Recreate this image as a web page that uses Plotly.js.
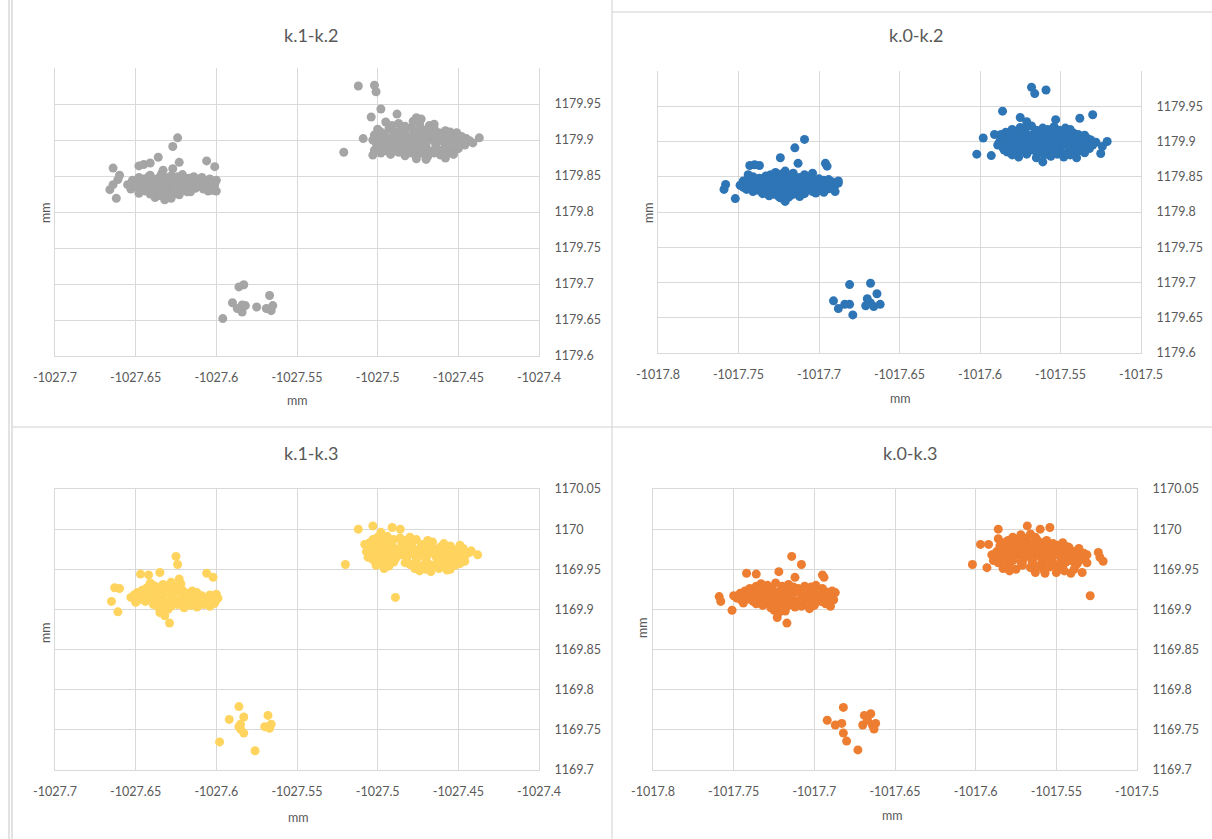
<!DOCTYPE html>
<html><head><meta charset="utf-8">
<script src="https://cdn.plot.ly/plotly-3.0.1.min.js"></script>
<style>html,body{margin:0;padding:0;background:#fff}#chart{width:1212px;height:839px}</style>
</head><body><div id="chart"></div>
<script>
const panelTitles = ['k.1-k.2', 'k.0-k.2', 'k.1-k.3', 'k.0-k.3'];
const axisTitle = 'mm';
const xTicksK1 = [-1027.7, -1027.65, -1027.6, -1027.55, -1027.5, -1027.45, -1027.4];
const xTickTextK1 = ['-1027.7', '-1027.65', '-1027.6', '-1027.55', '-1027.5', '-1027.45', '-1027.4'];
const xTicksK0 = [-1017.8, -1017.75, -1017.7, -1017.65, -1017.6, -1017.55, -1017.5];
const xTickTextK0 = ['-1017.8', '-1017.75', '-1017.7', '-1017.65', '-1017.6', '-1017.55', '-1017.5'];
const yTicksK2 = [1179.6, 1179.65, 1179.7, 1179.75, 1179.8, 1179.85, 1179.9, 1179.95];
const yTickTextK2 = ['1179.6', '1179.65', '1179.7', '1179.75', '1179.8', '1179.85', '1179.9', '1179.95'];
const yTicksK3 = [1169.7, 1169.75, 1169.8, 1169.85, 1169.9, 1169.95, 1170, 1170.05];
const yTickTextK3 = ['1169.7', '1169.75', '1169.8', '1169.85', '1169.9', '1169.95', '1170', '1170.05'];

// k.1-k.2 (gray)
const k12Left = [[-1027.664,1179.861],[-1027.660,1179.851],[-1027.661,1179.845],[-1027.664,1179.838],[-1027.666,1179.831],[-1027.662,1179.819],
[-1027.648,1179.864],[-1027.645,1179.866],[-1027.641,1179.868],[-1027.636,1179.876],[-1027.627,1179.891],[-1027.624,1179.903],[-1027.623,1179.869],[-1027.606,1179.871],[-1027.601,1179.863],
[-1027.633,1179.858],[-1027.627,1179.860],
[-1027.641,1179.851],[-1027.634,1179.853],[-1027.628,1179.850],[-1027.621,1179.852],[-1027.614,1179.849],
[-1027.652,1179.844],[-1027.645,1179.846],[-1027.638,1179.845],[-1027.632,1179.843],[-1027.626,1179.846],[-1027.620,1179.844],[-1027.612,1179.843],[-1027.604,1179.846],[-1027.600,1179.844],
[-1027.655,1179.838],[-1027.649,1179.837],[-1027.643,1179.839],[-1027.637,1179.837],[-1027.631,1179.839],[-1027.627,1179.836],[-1027.622,1179.838],[-1027.617,1179.837],[-1027.611,1179.839],[-1027.606,1179.836],[-1027.601,1179.838],
[-1027.653,1179.832],[-1027.646,1179.831],[-1027.640,1179.833],[-1027.634,1179.831],[-1027.629,1179.830],[-1027.624,1179.832],[-1027.619,1179.831],[-1027.613,1179.833],[-1027.608,1179.832],[-1027.602,1179.830],
[-1027.648,1179.826],[-1027.641,1179.825],[-1027.636,1179.827],[-1027.630,1179.824],[-1027.625,1179.826],[-1027.618,1179.828],[-1027.600,1179.829],
[-1027.638,1179.820],[-1027.632,1179.817],[-1027.628,1179.819]];
const k12LeftFill = [[-1027.648,1179.848],[-1027.642,1179.849],[-1027.636,1179.847],[-1027.630,1179.848],[-1027.624,1179.849],[-1027.617,1179.847],[-1027.609,1179.848],
[-1027.652,1179.841],[-1027.646,1179.842],[-1027.640,1179.840],[-1027.634,1179.842],[-1027.628,1179.841],[-1027.624,1179.840],[-1027.619,1179.842],[-1027.614,1179.841],[-1027.608,1179.840],[-1027.603,1179.841],
[-1027.650,1179.835],[-1027.644,1179.834],[-1027.638,1179.836],[-1027.632,1179.834],[-1027.626,1179.835],[-1027.620,1179.834],[-1027.615,1179.835],[-1027.610,1179.836],[-1027.604,1179.834],
[-1027.644,1179.829],[-1027.638,1179.830],[-1027.633,1179.828],[-1027.627,1179.829],[-1027.621,1179.830],[-1027.616,1179.828],[-1027.605,1179.829],
[-1027.635,1179.823],[-1027.629,1179.822],[-1027.623,1179.824]];
const k12Right = [[-1027.512,1179.975],[-1027.502,1179.976],[-1027.501,1179.967],[-1027.498,1179.943],[-1027.504,1179.932],[-1027.488,1179.936],[-1027.476,1179.931],[-1027.473,1179.929],[-1027.521,1179.883],[-1027.509,1179.902],[-1027.437,1179.903],[-1027.444,1179.898],
[-1027.495,1179.925],[-1027.487,1179.923],[-1027.478,1179.926],[-1027.465,1179.922],
[-1027.500,1179.915],[-1027.493,1179.916],[-1027.486,1179.914],[-1027.479,1179.917],[-1027.472,1179.914],[-1027.465,1179.916],[-1027.458,1179.913],
[-1027.502,1179.907],[-1027.496,1179.908],[-1027.490,1179.906],[-1027.484,1179.908],[-1027.478,1179.907],[-1027.472,1179.905],[-1027.466,1179.908],[-1027.460,1179.906],[-1027.454,1179.907],[-1027.448,1179.905],
[-1027.503,1179.900],[-1027.497,1179.899],[-1027.491,1179.901],[-1027.485,1179.899],[-1027.479,1179.900],[-1027.473,1179.898],[-1027.467,1179.901],[-1027.461,1179.899],[-1027.455,1179.900],[-1027.449,1179.898],[-1027.443,1179.899],
[-1027.500,1179.893],[-1027.494,1179.892],[-1027.488,1179.894],[-1027.482,1179.892],[-1027.476,1179.893],[-1027.470,1179.891],[-1027.464,1179.894],[-1027.458,1179.892],[-1027.452,1179.891],[-1027.446,1179.893],
[-1027.502,1179.886],[-1027.495,1179.885],[-1027.488,1179.887],[-1027.481,1179.885],[-1027.474,1179.886],[-1027.467,1179.884],[-1027.460,1179.886],[-1027.453,1179.884],
[-1027.503,1179.879],[-1027.492,1179.880],[-1027.483,1179.878],[-1027.476,1179.879],[-1027.469,1179.877],[-1027.461,1179.879],[-1027.453,1179.880],
[-1027.476,1179.874],[-1027.470,1179.873],[-1027.458,1179.875]];
const k12RightFill = [[-1027.491,1179.920],[-1027.483,1179.919],[-1027.474,1179.921],[-1027.468,1179.920],
[-1027.498,1179.911],[-1027.490,1179.912],[-1027.483,1179.910],[-1027.476,1179.911],[-1027.469,1179.912],[-1027.462,1179.910],[-1027.455,1179.911],[-1027.451,1179.910],
[-1027.499,1179.904],[-1027.493,1179.903],[-1027.487,1179.904],[-1027.481,1179.903],[-1027.475,1179.904],[-1027.469,1179.903],[-1027.463,1179.904],[-1027.457,1179.903],[-1027.451,1179.904],[-1027.445,1179.902],
[-1027.501,1179.896],[-1027.494,1179.897],[-1027.488,1179.896],[-1027.482,1179.897],[-1027.476,1179.896],[-1027.470,1179.895],[-1027.464,1179.897],[-1027.458,1179.896],[-1027.452,1179.895],[-1027.446,1179.897],[-1027.441,1179.896],
[-1027.497,1179.889],[-1027.491,1179.890],[-1027.485,1179.889],[-1027.478,1179.890],[-1027.471,1179.888],[-1027.464,1179.889],[-1027.457,1179.890],[-1027.450,1179.888],
[-1027.498,1179.882],[-1027.487,1179.883],[-1027.479,1179.882],[-1027.472,1179.881],[-1027.465,1179.882],[-1027.457,1179.881]];
const k12Low = [[-1027.596,1179.652],[-1027.590,1179.674],[-1027.586,1179.696],[-1027.583,1179.699],[-1027.587,1179.666],[-1027.582,1179.670],[-1027.584,1179.661],[-1027.575,1179.668],[-1027.569,1179.666],[-1027.567,1179.684],[-1027.565,1179.670],[-1027.566,1179.663],[-1027.584,1179.671]];

// k.0-k.2 (blue)
const k02Left = [[-1017.758,1179.839],[-1017.759,1179.832],[-1017.752,1179.819],[-1017.743,1179.866],[-1017.740,1179.867],[-1017.737,1179.866],[-1017.724,1179.877],[-1017.715,1179.891],[-1017.709,1179.903],[-1017.713,1179.869],[-1017.696,1179.869],[-1017.695,1179.865],[-1017.690,1179.829],[-1017.688,1179.844],[-1017.704,1179.855],[-1017.744,1179.853],
[-1017.727,1179.856],[-1017.721,1179.858],[-1017.716,1179.855],
[-1017.741,1179.850],[-1017.733,1179.851],[-1017.726,1179.849],[-1017.719,1179.851],[-1017.712,1179.849],[-1017.705,1179.850],
[-1017.747,1179.844],[-1017.740,1179.843],[-1017.734,1179.845],[-1017.728,1179.843],[-1017.722,1179.845],[-1017.716,1179.843],[-1017.710,1179.845],[-1017.703,1179.843],[-1017.697,1179.845],[-1017.692,1179.843],
[-1017.749,1179.838],[-1017.743,1179.837],[-1017.737,1179.839],[-1017.731,1179.837],[-1017.725,1179.838],[-1017.720,1179.836],[-1017.714,1179.838],[-1017.708,1179.837],[-1017.702,1179.839],[-1017.696,1179.837],[-1017.690,1179.838],
[-1017.745,1179.832],[-1017.738,1179.831],[-1017.732,1179.833],[-1017.726,1179.831],[-1017.720,1179.832],[-1017.714,1179.830],[-1017.707,1179.832],[-1017.700,1179.831],[-1017.694,1179.833],
[-1017.735,1179.826],[-1017.728,1179.825],[-1017.722,1179.827],[-1017.716,1179.825],[-1017.709,1179.826],[-1017.702,1179.827],
[-1017.724,1179.820],[-1017.719,1179.821],[-1017.721,1179.815]];
const k02LeftFill = [[-1017.730,1179.853],[-1017.723,1179.854],[-1017.716,1179.852],[-1017.709,1179.853],
[-1017.744,1179.847],[-1017.737,1179.848],[-1017.731,1179.847],[-1017.725,1179.848],[-1017.719,1179.846],[-1017.713,1179.847],[-1017.707,1179.848],[-1017.700,1179.847],[-1017.694,1179.846],
[-1017.746,1179.841],[-1017.740,1179.840],[-1017.734,1179.841],[-1017.728,1179.840],[-1017.722,1179.841],[-1017.716,1179.840],[-1017.711,1179.841],[-1017.705,1179.840],[-1017.699,1179.841],[-1017.693,1179.840],[-1017.688,1179.841],
[-1017.747,1179.835],[-1017.741,1179.834],[-1017.735,1179.835],[-1017.729,1179.834],[-1017.723,1179.835],[-1017.717,1179.834],[-1017.711,1179.835],[-1017.705,1179.834],[-1017.699,1179.835],[-1017.693,1179.834],
[-1017.741,1179.829],[-1017.735,1179.828],[-1017.729,1179.829],[-1017.723,1179.828],[-1017.717,1179.829],[-1017.711,1179.828],[-1017.704,1179.829],[-1017.697,1179.828],
[-1017.731,1179.823],[-1017.725,1179.822],[-1017.718,1179.823],[-1017.712,1179.822]];
const k02Right = [[-1017.568,1179.977],[-1017.566,1179.968],[-1017.559,1179.973],[-1017.586,1179.943],[-1017.575,1179.934],[-1017.538,1179.933],[-1017.530,1179.938],[-1017.598,1179.905],[-1017.591,1179.910],[-1017.602,1179.882],[-1017.593,1179.880],[-1017.561,1179.871],[-1017.521,1179.900],[-1017.524,1179.893],[-1017.525,1179.883],[-1017.553,1179.931],[-1017.571,1179.928],
[-1017.575,1179.920],[-1017.568,1179.922],[-1017.561,1179.919],[-1017.554,1179.921],[-1017.547,1179.919],
[-1017.584,1179.913],[-1017.578,1179.912],[-1017.572,1179.914],[-1017.566,1179.912],[-1017.560,1179.913],[-1017.554,1179.911],[-1017.548,1179.914],[-1017.542,1179.912],
[-1017.587,1179.906],[-1017.581,1179.905],[-1017.575,1179.907],[-1017.569,1179.905],[-1017.563,1179.906],[-1017.557,1179.904],[-1017.551,1179.907],[-1017.545,1179.905],[-1017.539,1179.906],[-1017.533,1179.904],
[-1017.588,1179.899],[-1017.582,1179.898],[-1017.576,1179.900],[-1017.570,1179.898],[-1017.564,1179.899],[-1017.558,1179.897],[-1017.552,1179.900],[-1017.546,1179.898],[-1017.540,1179.899],[-1017.534,1179.897],[-1017.528,1179.899],
[-1017.586,1179.892],[-1017.580,1179.891],[-1017.574,1179.893],[-1017.568,1179.891],[-1017.562,1179.892],[-1017.556,1179.890],[-1017.550,1179.893],[-1017.544,1179.891],[-1017.538,1179.892],[-1017.532,1179.890],
[-1017.583,1179.885],[-1017.577,1179.884],[-1017.570,1179.886],[-1017.563,1179.884],[-1017.556,1179.885],[-1017.549,1179.883],[-1017.542,1179.885],[-1017.535,1179.884],
[-1017.576,1179.878],[-1017.565,1179.877],[-1017.556,1179.879],[-1017.548,1179.878],[-1017.540,1179.877]];
const k02RightFill = [[-1017.580,1179.917],[-1017.572,1179.918],[-1017.565,1179.916],[-1017.558,1179.917],[-1017.551,1179.916],[-1017.544,1179.917],
[-1017.587,1179.910],[-1017.581,1179.909],[-1017.575,1179.910],[-1017.569,1179.909],[-1017.563,1179.910],[-1017.557,1179.909],[-1017.551,1179.910],[-1017.545,1179.909],[-1017.539,1179.910],[-1017.535,1179.909],
[-1017.585,1179.902],[-1017.579,1179.903],[-1017.573,1179.902],[-1017.567,1179.903],[-1017.561,1179.902],[-1017.555,1179.901],[-1017.549,1179.903],[-1017.543,1179.902],[-1017.537,1179.901],[-1017.531,1179.902],
[-1017.589,1179.895],[-1017.583,1179.896],[-1017.577,1179.895],[-1017.571,1179.894],[-1017.565,1179.896],[-1017.559,1179.895],[-1017.553,1179.894],[-1017.547,1179.896],[-1017.541,1179.895],[-1017.535,1179.894],[-1017.530,1179.895],
[-1017.585,1179.888],[-1017.579,1179.889],[-1017.573,1179.888],[-1017.566,1179.887],[-1017.559,1179.888],[-1017.552,1179.889],[-1017.545,1179.888],[-1017.538,1179.887],
[-1017.580,1179.881],[-1017.571,1179.882],[-1017.560,1179.881],[-1017.552,1179.882],[-1017.544,1179.881]];
const k02Low = [[-1017.691,1179.674],[-1017.688,1179.663],[-1017.684,1179.669],[-1017.681,1179.669],[-1017.679,1179.654],[-1017.681,1179.697],[-1017.668,1179.699],[-1017.664,1179.684],[-1017.671,1179.667],[-1017.668,1179.671],[-1017.662,1179.669],[-1017.670,1179.677],[-1017.666,1179.666]];

// k.1-k.3 (yellow)
const k13Left = [[-1027.663,1169.927],[-1027.660,1169.926],[-1027.665,1169.910],[-1027.661,1169.897],[-1027.647,1169.944],[-1027.642,1169.943],[-1027.635,1169.946],[-1027.625,1169.966],[-1027.624,1169.956],[-1027.606,1169.945],[-1027.602,1169.940],[-1027.629,1169.883],[-1027.632,1169.892],[-1027.635,1169.896],[-1027.623,1169.938],
[-1027.641,1169.933],[-1027.628,1169.934],[-1027.622,1169.932],
[-1027.643,1169.927],[-1027.637,1169.928],[-1027.630,1169.926],[-1027.624,1169.927],
[-1027.649,1169.921],[-1027.642,1169.922],[-1027.636,1169.920],[-1027.630,1169.921],[-1027.624,1169.922],[-1027.618,1169.920],[-1027.612,1169.921],
[-1027.653,1169.915],[-1027.646,1169.914],[-1027.639,1169.916],[-1027.633,1169.914],[-1027.627,1169.915],[-1027.621,1169.913],[-1027.615,1169.915],[-1027.609,1169.914],[-1027.603,1169.916],[-1027.599,1169.914],
[-1027.650,1169.909],[-1027.644,1169.910],[-1027.637,1169.908],[-1027.631,1169.909],[-1027.625,1169.910],[-1027.619,1169.908],[-1027.613,1169.909],[-1027.607,1169.910],[-1027.601,1169.908],
[-1027.636,1169.903],[-1027.628,1169.904],[-1027.620,1169.902],[-1027.612,1169.903],[-1027.604,1169.904],
[-1027.633,1169.898]];
const k13LeftFill = [[-1027.639,1169.930],[-1027.633,1169.931],[-1027.626,1169.929],
[-1027.646,1169.924],[-1027.640,1169.925],[-1027.633,1169.924],[-1027.627,1169.923],[-1027.621,1169.924],[-1027.615,1169.923],
[-1027.651,1169.918],[-1027.645,1169.919],[-1027.639,1169.918],[-1027.633,1169.917],[-1027.627,1169.918],[-1027.621,1169.919],[-1027.615,1169.918],[-1027.609,1169.917],[-1027.604,1169.918],[-1027.600,1169.919],
[-1027.648,1169.912],[-1027.641,1169.913],[-1027.635,1169.912],[-1027.628,1169.911],[-1027.622,1169.912],[-1027.616,1169.911],[-1027.610,1169.912],[-1027.604,1169.911],[-1027.600,1169.912],
[-1027.639,1169.906],[-1027.633,1169.907],[-1027.624,1169.906],[-1027.616,1169.905],[-1027.608,1169.906],[-1027.602,1169.907],
[-1027.630,1169.900]];
const k13Right = [[-1027.512,1170.000],[-1027.503,1170.004],[-1027.491,1170.002],[-1027.486,1170.000],[-1027.520,1169.956],[-1027.508,1169.981],[-1027.489,1169.915],[-1027.442,1169.973],[-1027.438,1169.968],[-1027.498,1169.996],
[-1027.500,1169.990],[-1027.494,1169.991],[-1027.486,1169.989],[-1027.480,1169.990],
[-1027.505,1169.983],[-1027.499,1169.982],[-1027.492,1169.984],[-1027.485,1169.982],[-1027.479,1169.983],[-1027.472,1169.981],[-1027.466,1169.984],[-1027.459,1169.982],
[-1027.506,1169.976],[-1027.500,1169.975],[-1027.494,1169.977],[-1027.488,1169.975],[-1027.482,1169.976],[-1027.476,1169.974],[-1027.470,1169.977],[-1027.464,1169.975],[-1027.458,1169.976],[-1027.452,1169.974],[-1027.447,1169.976],
[-1027.504,1169.969],[-1027.498,1169.968],[-1027.492,1169.970],[-1027.486,1169.968],[-1027.480,1169.969],[-1027.474,1169.967],[-1027.468,1169.970],[-1027.462,1169.968],[-1027.456,1169.969],[-1027.450,1169.967],[-1027.445,1169.969],
[-1027.503,1169.962],[-1027.496,1169.961],[-1027.489,1169.963],[-1027.482,1169.961],[-1027.476,1169.962],[-1027.470,1169.960],[-1027.463,1169.963],[-1027.457,1169.961],[-1027.451,1169.962],[-1027.446,1169.960],
[-1027.501,1169.955],[-1027.493,1169.954],[-1027.480,1169.956],[-1027.473,1169.954],[-1027.466,1169.955],[-1027.459,1169.953],[-1027.452,1169.955],
[-1027.474,1169.948],[-1027.467,1169.947],[-1027.457,1169.949]];
const k13RightFill = [[-1027.503,1169.987],[-1027.497,1169.986],[-1027.490,1169.987],[-1027.483,1169.986],[-1027.476,1169.987],[-1027.469,1169.986],
[-1027.503,1169.979],[-1027.497,1169.980],[-1027.491,1169.979],[-1027.485,1169.978],[-1027.479,1169.979],[-1027.473,1169.980],[-1027.467,1169.979],[-1027.461,1169.978],[-1027.455,1169.979],[-1027.449,1169.980],
[-1027.507,1169.972],[-1027.501,1169.973],[-1027.495,1169.972],[-1027.489,1169.971],[-1027.483,1169.972],[-1027.477,1169.973],[-1027.471,1169.972],[-1027.465,1169.971],[-1027.459,1169.972],[-1027.453,1169.973],[-1027.448,1169.972],[-1027.443,1169.971],
[-1027.506,1169.965],[-1027.500,1169.964],[-1027.494,1169.965],[-1027.488,1169.966],[-1027.482,1169.965],[-1027.476,1169.964],[-1027.470,1169.965],[-1027.464,1169.966],[-1027.458,1169.965],[-1027.452,1169.964],[-1027.447,1169.965],
[-1027.498,1169.958],[-1027.490,1169.959],[-1027.483,1169.958],[-1027.476,1169.957],[-1027.469,1169.958],[-1027.462,1169.959],[-1027.455,1169.958],[-1027.449,1169.957],
[-1027.496,1169.951],[-1027.477,1169.951],[-1027.470,1169.950],[-1027.462,1169.951],[-1027.455,1169.950]];
const k13Low = [[-1027.598,1169.735],[-1027.592,1169.763],[-1027.586,1169.779],[-1027.583,1169.766],[-1027.585,1169.757],[-1027.583,1169.746],[-1027.576,1169.724],[-1027.568,1169.768],[-1027.570,1169.754],[-1027.566,1169.757],[-1027.567,1169.752],[-1027.585,1169.751],[-1027.586,1169.754]];

// k.0-k.3 (orange)
const k03Left = [[-1017.759,1169.916],[-1017.758,1169.910],[-1017.751,1169.899],[-1017.742,1169.945],[-1017.736,1169.944],[-1017.714,1169.966],[-1017.708,1169.956],[-1017.722,1169.947],[-1017.712,1169.940],[-1017.695,1169.943],[-1017.694,1169.940],[-1017.723,1169.890],[-1017.717,1169.883],[-1017.689,1169.915],[-1017.690,1169.904],
[-1017.733,1169.932],[-1017.724,1169.933],[-1017.716,1169.931],
[-1017.740,1169.926],[-1017.733,1169.927],[-1017.726,1169.925],[-1017.718,1169.927],[-1017.710,1169.926],[-1017.702,1169.928],[-1017.695,1169.926],
[-1017.746,1169.920],[-1017.739,1169.921],[-1017.732,1169.919],[-1017.725,1169.921],[-1017.718,1169.920],[-1017.711,1169.922],[-1017.704,1169.920],[-1017.697,1169.921],[-1017.691,1169.919],[-1017.687,1169.921],
[-1017.748,1169.914],[-1017.741,1169.913],[-1017.734,1169.915],[-1017.727,1169.913],[-1017.720,1169.914],[-1017.713,1169.912],[-1017.706,1169.915],[-1017.699,1169.913],[-1017.693,1169.914],[-1017.688,1169.912],
[-1017.744,1169.908],[-1017.736,1169.907],[-1017.728,1169.909],[-1017.721,1169.907],[-1017.714,1169.908],[-1017.707,1169.906],[-1017.700,1169.908],[-1017.693,1169.907],
[-1017.727,1169.902],[-1017.720,1169.901],[-1017.712,1169.903],[-1017.703,1169.901],
[-1017.722,1169.896]];
const k03LeftFill = [[-1017.736,1169.929],[-1017.729,1169.930],[-1017.720,1169.929],[-1017.713,1169.928],[-1017.706,1169.929],[-1017.699,1169.930],
[-1017.743,1169.923],[-1017.736,1169.924],[-1017.729,1169.923],[-1017.722,1169.922],[-1017.714,1169.923],[-1017.707,1169.924],[-1017.700,1169.923],[-1017.693,1169.922],[-1017.689,1169.923],
[-1017.750,1169.917],[-1017.743,1169.918],[-1017.736,1169.917],[-1017.729,1169.916],[-1017.722,1169.917],[-1017.715,1169.918],[-1017.708,1169.917],[-1017.701,1169.916],[-1017.695,1169.917],[-1017.690,1169.918],
[-1017.745,1169.911],[-1017.738,1169.910],[-1017.731,1169.911],[-1017.724,1169.912],[-1017.717,1169.911],[-1017.710,1169.910],[-1017.703,1169.911],[-1017.696,1169.910],[-1017.691,1169.911],
[-1017.732,1169.905],[-1017.724,1169.904],[-1017.716,1169.905],[-1017.708,1169.904],[-1017.700,1169.905],
[-1017.725,1169.899],[-1017.718,1169.898]];
const k03Right = [[-1017.586,1170.000],[-1017.586,1169.988],[-1017.568,1170.004],[-1017.554,1170.002],[-1017.597,1169.981],[-1017.592,1169.981],[-1017.602,1169.956],[-1017.593,1169.952],[-1017.529,1169.917],[-1017.524,1169.971],[-1017.521,1169.960],[-1017.523,1169.965],[-1017.560,1170.000],
[-1017.572,1169.993],[-1017.566,1169.994],
[-1017.580,1169.986],[-1017.574,1169.987],[-1017.568,1169.985],[-1017.562,1169.987],[-1017.556,1169.986],
[-1017.585,1169.979],[-1017.579,1169.978],[-1017.573,1169.980],[-1017.567,1169.978],[-1017.561,1169.979],[-1017.555,1169.977],[-1017.549,1169.980],[-1017.543,1169.978],
[-1017.587,1169.972],[-1017.581,1169.971],[-1017.575,1169.973],[-1017.569,1169.971],[-1017.563,1169.972],[-1017.557,1169.970],[-1017.551,1169.973],[-1017.545,1169.971],[-1017.539,1169.972],[-1017.533,1169.970],
[-1017.588,1169.965],[-1017.582,1169.964],[-1017.576,1169.966],[-1017.570,1169.964],[-1017.564,1169.965],[-1017.558,1169.963],[-1017.552,1169.966],[-1017.546,1169.964],[-1017.540,1169.965],[-1017.534,1169.963],
[-1017.586,1169.958],[-1017.579,1169.957],[-1017.572,1169.959],[-1017.565,1169.957],[-1017.558,1169.958],[-1017.551,1169.956],[-1017.544,1169.959],[-1017.537,1169.957],[-1017.531,1169.958],
[-1017.583,1169.951],[-1017.575,1169.950],[-1017.566,1169.952],[-1017.558,1169.950],[-1017.548,1169.951],[-1017.539,1169.950],
[-1017.563,1169.946],[-1017.557,1169.945],[-1017.550,1169.946],[-1017.541,1169.945],[-1017.534,1169.946]];
const k03RightFill = [[-1017.577,1169.990],[-1017.570,1169.989],[-1017.563,1169.990],
[-1017.583,1169.983],[-1017.577,1169.982],[-1017.571,1169.983],[-1017.565,1169.982],[-1017.559,1169.983],[-1017.552,1169.982],[-1017.546,1169.983],
[-1017.584,1169.976],[-1017.578,1169.975],[-1017.572,1169.976],[-1017.566,1169.977],[-1017.560,1169.976],[-1017.554,1169.975],[-1017.548,1169.976],[-1017.542,1169.977],[-1017.536,1169.976],
[-1017.590,1169.968],[-1017.584,1169.969],[-1017.578,1169.968],[-1017.572,1169.967],[-1017.566,1169.968],[-1017.560,1169.969],[-1017.554,1169.968],[-1017.548,1169.967],[-1017.542,1169.968],[-1017.536,1169.969],[-1017.531,1169.968],
[-1017.589,1169.961],[-1017.583,1169.962],[-1017.577,1169.961],[-1017.571,1169.960],[-1017.565,1169.961],[-1017.559,1169.962],[-1017.553,1169.961],[-1017.547,1169.960],[-1017.541,1169.961],[-1017.535,1169.962],
[-1017.580,1169.954],[-1017.571,1169.955],[-1017.562,1169.954],[-1017.554,1169.953],[-1017.546,1169.954],[-1017.538,1169.955],
[-1017.579,1169.948],[-1017.545,1169.948]];
const k03Low = [[-1017.692,1169.762],[-1017.687,1169.756],[-1017.683,1169.758],[-1017.682,1169.778],[-1017.682,1169.746],[-1017.680,1169.736],[-1017.673,1169.725],[-1017.670,1169.756],[-1017.669,1169.768],[-1017.665,1169.770],[-1017.664,1169.756],[-1017.662,1169.758],[-1017.667,1169.762],[-1017.663,1169.751]];

const colors = ['#a5a5a5', '#2e75b6', '#ffd45e', '#ed7d31'];
const panelData = [
  k12Left.concat(k12LeftFill, k12Right, k12RightFill, k12Low),
  k02Left.concat(k02LeftFill, k02Right, k02RightFill, k02Low),
  k13Left.concat(k13LeftFill, k13Right, k13RightFill, k13Low),
  k03Left.concat(k03LeftFill, k03Right, k03RightFill, k03Low)
];

const W = 1212, H = 839;
const px = v => v / W, py = v => 1 - v / H;
// plot boxes in pixels [left, right, top, bottom]
const boxes = [[55, 539, 68, 356], [658, 1141, 71, 353], [55, 539, 489, 770], [653, 1137, 489, 770]];

const FONT = 'Lato, "Open Sans", sans-serif';
const GRID = '#d9d9d9';
const TXT = '#595959';

const traces = panelData.map((pts, i) => ({
  type: 'scatter', mode: 'markers',
  x: pts.map(p => p[0]), y: pts.map(p => p[1]),
  xaxis: i === 0 ? 'x' : 'x' + (i + 1), yaxis: i === 0 ? 'y' : 'y' + (i + 1),
  marker: {size: 9, color: colors[i], line: {width: 0}},
  hoverinfo: 'x+y'
}));

const layout = {
  width: W, height: H, margin: {l: 0, r: 0, t: 0, b: 0},
  paper_bgcolor: '#ffffff', plot_bgcolor: '#ffffff', showlegend: false,
  font: {family: FONT, color: TXT},
  annotations: [], shapes: []
};

boxes.forEach((b, i) => {
  const k = i === 0 ? '' : String(i + 1);
  const isK1 = (i % 2 === 0);
  const isK3 = (i >= 2);
  layout['xaxis' + k] = {
    domain: [px(b[0]), px(b[1])], anchor: 'y' + k,
    range: isK1 ? [-1027.7, -1027.4] : [-1017.8, -1017.5],
    tickmode: 'array', tickvals: isK1 ? xTicksK1 : xTicksK0, ticktext: isK1 ? xTickTextK1 : xTickTextK0,
    showgrid: true, gridcolor: GRID, gridwidth: 1, zeroline: false,
    showline: true, linecolor: GRID, linewidth: 1, mirror: isK3,
    ticks: '', ticklabelstandoff: 10,
    tickfont: {family: FONT, size: 12.5, color: TXT}, fixedrange: true
  };
  layout['yaxis' + k] = {
    domain: [py(b[3]), py(b[2])], anchor: 'x' + k, side: 'right',
    range: isK3 ? [1169.7, 1170.05] : [1179.6, 1180.0],
    tickmode: 'array', tickvals: isK3 ? yTicksK3 : yTicksK2, ticktext: isK3 ? yTickTextK3 : yTickTextK2,
    showgrid: true, gridcolor: GRID, gridwidth: 1, zeroline: false,
    showline: true, linecolor: GRID, linewidth: 1, mirror: true,
    ticks: '', ticklabelstandoff: 12,
    tickfont: {family: FONT, size: 12.5, color: TXT}, fixedrange: true
  };
});

const titlePos = [[311, 35], [916, 35], [311, 453], [910, 453]];
const xTitlePos = [[297, 400], [900, 398], [298, 817], [893, 815]];
const yTitlePos = [[45, 213], [648, 213], [45, 633], [642, 628]];
panelTitles.forEach((t, i) => {
  layout.annotations.push({text: t, xref: 'paper', yref: 'paper', x: px(titlePos[i][0]), y: py(titlePos[i][1]),
    xanchor: 'center', yanchor: 'middle', showarrow: false, font: {family: FONT, size: 18, color: TXT}});
  layout.annotations.push({text: axisTitle, xref: 'paper', yref: 'paper', x: px(xTitlePos[i][0]), y: py(xTitlePos[i][1]),
    xanchor: 'center', yanchor: 'middle', showarrow: false, font: {family: FONT, size: 12.5, color: TXT}});
  layout.annotations.push({text: axisTitle, xref: 'paper', yref: 'paper', x: px(yTitlePos[i][0]), y: py(yTitlePos[i][1]),
    xanchor: 'center', yanchor: 'middle', textangle: -90, showarrow: false, font: {family: FONT, size: 12.5, color: TXT}});
});

const sepLine = (x0, y0, x1, y1, c) => ({type: 'line', xref: 'paper', yref: 'paper',
  x0: px(x0), y0: py(y0), x1: px(x1), y1: py(y1), line: {color: c, width: 1}, layer: 'below'});
layout.shapes.push(sepLine(9, 0, 9, H, '#c6c6c6'));
layout.shapes.push(sepLine(12, 0, 12, H, '#c6c6c6'));
layout.shapes.push(sepLine(612, 0, 612, H, '#d0d0d0'));
layout.shapes.push(sepLine(12, 427, W, 427, '#d0d0d0'));
layout.shapes.push(sepLine(612, 12, W, 12, '#d0d0d0'));

Plotly.newPlot('chart', traces, layout, {staticPlot: true, displayModeBar: false});
</script>
</body></html>
